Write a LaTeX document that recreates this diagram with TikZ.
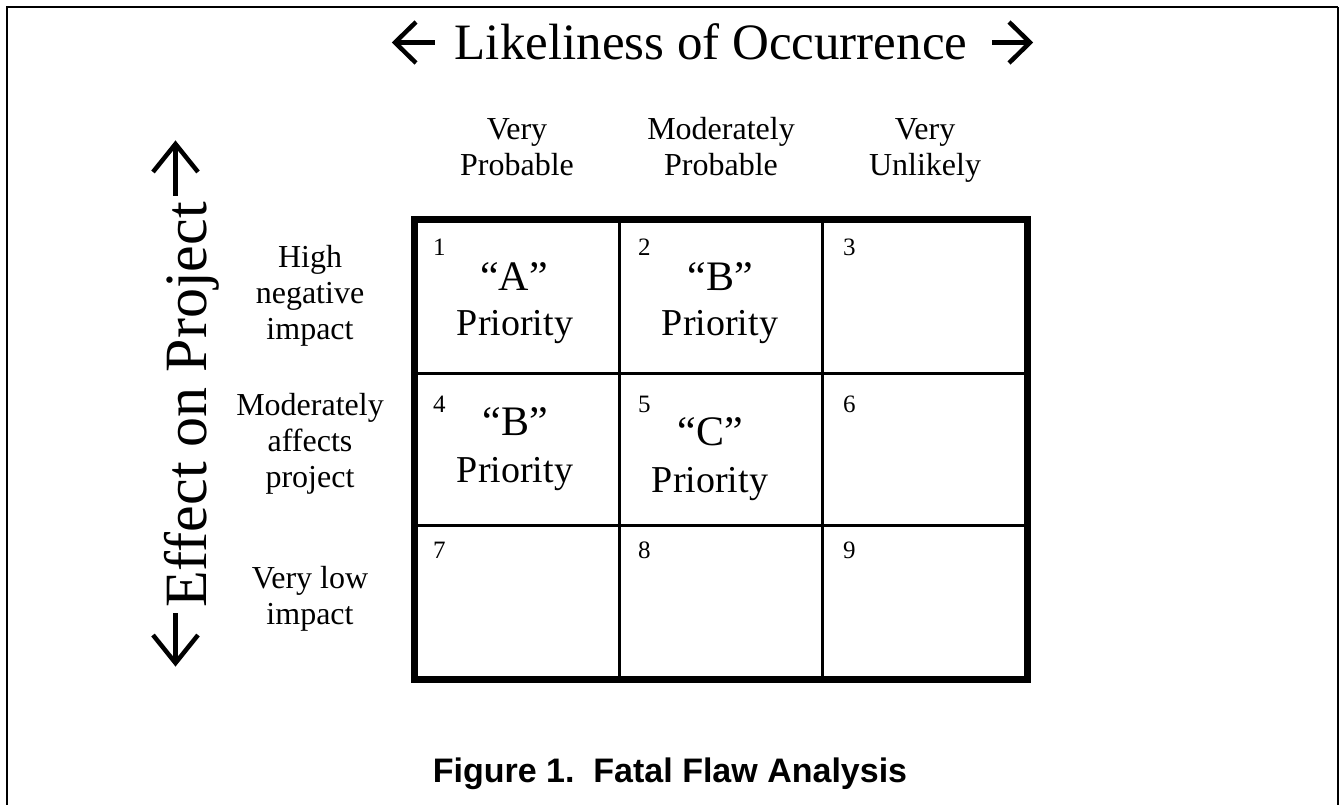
\documentclass[tikz,border=0pt]{standalone}
\usepackage{fontspec}
\setmainfont{Liberation Serif}
\newfontfamily\capfont{Liberation Sans}
\begin{document}
\begin{tikzpicture}[x=1pt,y=-1pt,
  cell/.style={draw, line width=2.5pt, minimum width=203.3pt, minimum height=152.3pt, inner sep=0pt},
  hdr/.style={font=\fontsize{32}{36}\selectfont, align=center, inner sep=0pt},
  num/.style={font=\fontsize{25}{28}\selectfont, anchor=base west, inner sep=0pt},
  quot/.style={font=\fontsize{42}{46}\selectfont, anchor=base, inner sep=0pt},
  prio/.style={font=\fontsize{38}{42}\selectfont, anchor=base, inner sep=0pt},
  bigarrow/.style={line width=4.5pt, line cap=butt, line join=miter},
]
\useasboundingbox (0,0) rectangle (1340,805);
% page frame
\draw[line width=2.5pt] (7,810) -- (7,7) -- (1338,7);
\draw[line width=1.5pt] (1338,7) -- (1338,810);

% title
\node[font=\fontsize{51}{56}\selectfont, anchor=base, inner sep=0pt] (title) at (711,60)
  {Likeliness of Occurrence};
\coordinate (tl) at (395,42.5);
\coordinate (tr) at (1030,42.5);
\draw[bigarrow] (tl) -- (435,42.5);
\draw[bigarrow] (416,22) -- (tl) -- (416,63);
\draw[bigarrow] (tr) -- (992,42.5);
\draw[bigarrow] (1009,22) -- (tr) -- (1009,63);

% vertical axis label
\node[font=\fontsize{60}{66}\selectfont, rotate=90, anchor=base, inner sep=0pt] (effect) at (206,405)
  {Effect on Project};
\coordinate (vt) at (175.5,144);
\coordinate (vb) at (175.5,663);
\draw[bigarrow] (vt) -- (175.5,196);
\draw[bigarrow] (153,172) -- (vt) -- (198,172);
\draw[bigarrow] (vb) -- (175.5,613);
\draw[bigarrow] (153,635) -- (vb) -- (198,635);

% column headers
\node[hdr] (h1) at (517,150.5) {\strut Very\\\strut Probable};
\node[hdr] (h2) at (721,150.5) {\strut Moderately\\\strut Probable};
\node[hdr] (h3) at (925,150.5) {\strut Very\\\strut Unlikely};

% row headers
\node[hdr] (r1) at (310,296) {\strut High\\\strut negative\\\strut impact};
\node[hdr] (r2) at (310,444) {\strut Moderately\\\strut affects\\\strut project};
\node[hdr] (r3) at (310,599) {\strut Very low\\\strut impact};

% cells
\node[cell] (c1) at (517.7,297.2) {};
\node[cell] (c2) at (721,297.2) {};
\node[cell] (c3) at (924.3,297.2) {};
\node[cell] (c4) at (517.7,449.5) {};
\node[cell] (c5) at (721,449.5) {};
\node[cell] (c6) at (924.3,449.5) {};
\node[cell] (c7) at (517.7,601.8) {};
\node[cell] (c8) at (721,601.8) {};
\node[cell] (c9) at (924.3,601.8) {};
\draw[line width=7pt] (c1.north west) rectangle (c9.south east);

% cell numbers
\node[num] (n1) at (433,255) {1};
\node[num] (n2) at (638,255) {2};
\node[num] (n3) at (843,255) {3};
\node[num] (n4) at (433,412) {4};
\node[num] (n5) at (638,412) {5};
\node[num] (n6) at (843,412) {6};
\node[num] (n7) at (433,558) {7};
\node[num] (n8) at (638,558) {8};
\node[num] (n9) at (843,558) {9};

% cell contents
\node[quot] (q1) at (514,290) {“A”};
\node[prio] (p1) at (515,335) {Priority};
\node[quot] (q2) at (720,290) {“B”};
\node[prio] (p2) at (720,335) {Priority};
\node[quot] (q4) at (515,435) {“B”};
\node[prio] (p4) at (515,482) {Priority};
\node[quot] (q5) at (710,445) {“C”};
\node[prio] (p5) at (710,492) {Priority};

% caption
\node[font=\capfont\bfseries\fontsize{34}{40}\selectfont, anchor=base, inner sep=0pt] (cap) at (670,782)
  {Figure 1.\ \ Fatal Flaw Analysis};
\end{tikzpicture}
\end{document}
